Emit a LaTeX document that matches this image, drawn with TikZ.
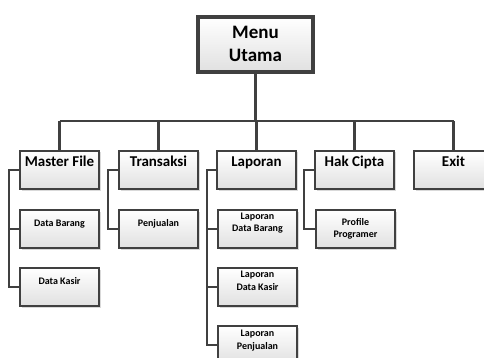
\documentclass[tikz,border=0pt]{standalone}
\usepackage{fontspec}
\setmainfont{Carlito}
\usetikzlibrary{shadows}
\definecolor{edge}{HTML}{404040}
\tikzset{
  x=1pt, y=-1pt,
  basebox/.style={draw=edge, rectangle, inner xsep=0pt, inner ysep=0pt,
    top color=white, bottom color=black!12, align=center, font=\bfseries,
    drop shadow={shadow xshift=1.5pt, shadow yshift=-1.5pt, fill=black!25, opacity=.6}},
  mainbox/.style={basebox, line width=4pt, minimum width=115pt, font=\bfseries\fontsize{19}{23}\selectfont,
    text height=45pt, text depth=10pt},
  lvlone/.style={basebox, line width=2pt, minimum width=79pt, font=\bfseries\fontsize{15}{18}\selectfont,
    text height=15.5pt, text depth=22.5pt, anchor=north west},
  lvltwo/.style={basebox, line width=2pt, minimum width=79pt, font=\bfseries\fontsize{10}{12.5}\selectfont,
    anchor=north west},
  conn/.style={draw=edge, line width=2.2pt},
}
\begin{document}
\begin{tikzpicture}
\useasboundingbox (0,0) rectangle (484,358);
% main
\node[mainbox, anchor=north] (mu) at (255.5,15) {Menu\\Utama};
% level one
\node[lvlone] (mf) at (19,150) {Master File};
\node[lvlone] (tr) at (118,150) {Transaksi};
\node[lvlone] (lp) at (216,150) {Laporan};
\node[lvlone] (hc) at (314,150) {Hak Cipta};
\node[lvlone] (ex) at (413,150) {Exit};
% level two
\node[lvltwo, text height=16pt, text depth=22pt] (db) at (19,209) {Data Barang};
\node[lvltwo, text height=16pt, text depth=22pt] (dk) at (19,267) {Data Kasir};
\node[lvltwo, text height=16pt, text depth=22pt] (pj) at (118,209) {Penjualan};
\node[lvltwo, text height=21.5pt, text depth=16.5pt] (ldb) at (217,209) {Laporan\\Data Barang};
\node[lvltwo, text height=22pt, text depth=16pt] (ldk) at (217,267) {Laporan\\Data Kasir};
\node[lvltwo, text height=23pt, text depth=15pt] (lpj) at (217,325) {Laporan\\Penjualan};
\node[lvltwo, text height=27.5pt, text depth=10.5pt] (pp) at (315,209) {Profile\\Programer};
% connectors
\coordinate (bus) at (255.5,121);
\draw[conn] (mu.south) -- (bus);
\draw[conn] (mf.north |- bus) -- (ex.north |- bus);
\foreach \n in {mf,tr,lp,hc,ex} \draw[conn] (\n.north) -- (\n.north |- bus);
\draw[conn] (mf.west) -- ++(-10,0) |- (dk.west);
\draw[conn] (db.west) -- ++(-10,0);
\draw[conn] (tr.west) -- ++(-10,0) |- (pj.west);
\draw[conn] (lp.west) -- ++(-9,0) |- (lpj.west);
\draw[conn] (ldb.west) -- ++(-9,0);
\draw[conn] (ldk.west) -- ++(-9,0);
\draw[conn] (hc.west) -- ++(-10,0) |- (pp.west);
\end{tikzpicture}
\end{document}
